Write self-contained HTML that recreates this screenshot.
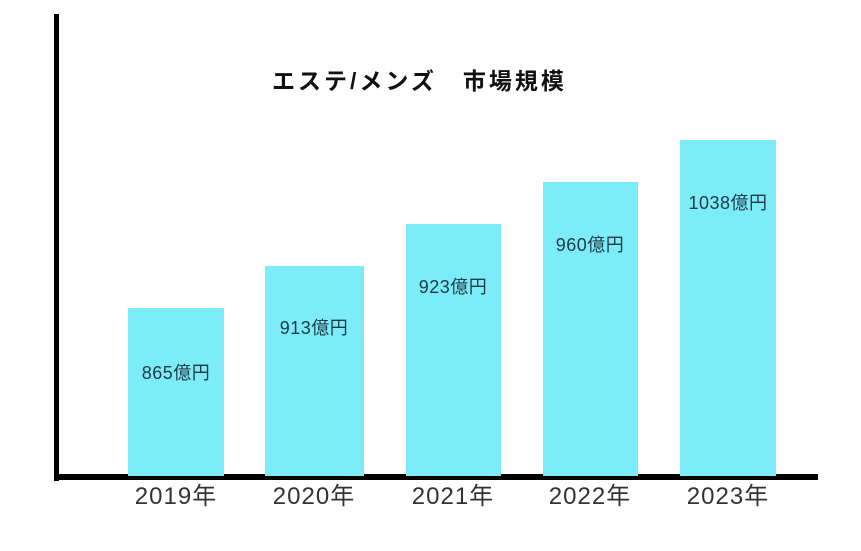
<!DOCTYPE html>
<html><head><meta charset="utf-8"><style>
body{margin:0;width:861px;height:551px;background:#fff;position:relative;overflow:hidden;font-family:"Liberation Sans","Noto Sans CJK JP",sans-serif}
.b{position:absolute;background:#7decf9}
.v{position:absolute;width:160px;margin-left:-80px;text-align:center;font-size:18px;color:#1f3a44;line-height:20px;letter-spacing:0.5px}
.y{position:absolute;top:482px;width:160px;margin-left:-80px;text-align:center;font-size:24px;color:#333;line-height:30px;letter-spacing:1px}
</style></head><body>
<div style="position:absolute;left:54px;top:14px;width:5px;height:467px;background:#000"></div>
<div style="position:absolute;left:54px;top:474px;width:764px;height:6px;background:#000"></div>
<div style="position:absolute;left:272px;top:62px;font-size:23px;font-weight:bold;color:#111;white-space:pre;letter-spacing:3px">エステ/メンズ　市場規模</div>
<div class="b" style="left:128px;width:96px;top:308px;height:168px"></div>
<div class="b" style="left:265px;width:99px;top:266px;height:210px"></div>
<div class="b" style="left:406px;width:95px;top:224px;height:252px"></div>
<div class="b" style="left:543px;width:95px;top:182px;height:294px"></div>
<div class="b" style="left:680px;width:96px;top:140px;height:336px"></div>
<div class="v" style="left:176px;top:363px">865億円</div>
<div class="v" style="left:314px;top:318px">913億円</div>
<div class="v" style="left:453px;top:277px">923億円</div>
<div class="v" style="left:590px;top:235px">960億円</div>
<div class="v" style="left:728px;top:193px">1038億円</div>
<div class="y" style="left:176px">2019年</div>
<div class="y" style="left:314px">2020年</div>
<div class="y" style="left:453px">2021年</div>
<div class="y" style="left:590px">2022年</div>
<div class="y" style="left:728px">2023年</div>
</body></html>
